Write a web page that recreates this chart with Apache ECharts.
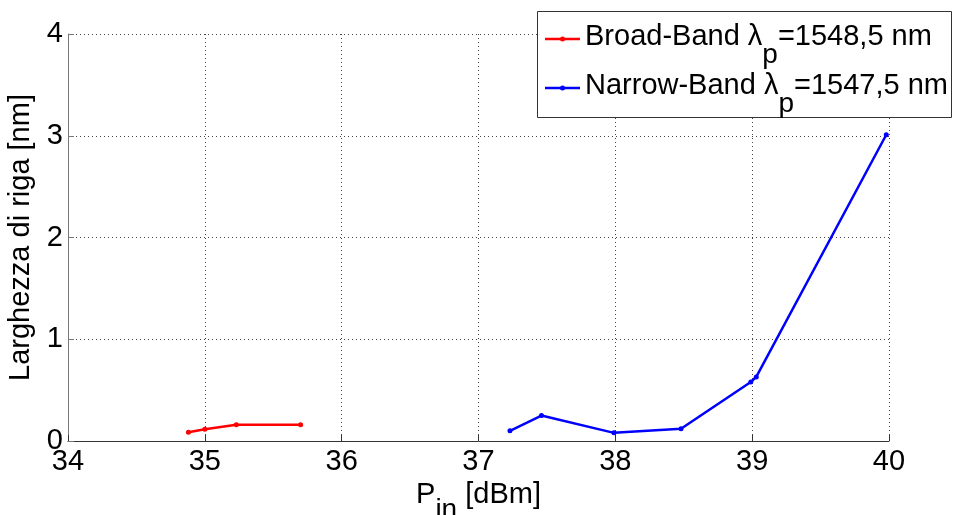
<!DOCTYPE html>
<html>
<head>
<meta charset="utf-8">
<script src="https://cdn.jsdelivr.net/npm/echarts@6/dist/echarts.min.js"></script>
<style>
  html, body { margin: 0; padding: 0; background: #fff; overflow: hidden; }
  #chart { width: 953px; height: 515px; }
</style>
</head>
<body>
<div id="chart"></div>
<script>
// Linewidth vs. input pump power, two pump configurations
const broadName = 'Broad-Band λp=1548,5 nm';
const narrowName = 'Narrow-Band λp=1547,5 nm';

const broadPin = [34.88, 35.00, 35.23, 35.70];
const broadWidth = [0.085, 0.115, 0.16, 0.16];

const narrowPin = [37.23, 37.46, 37.99, 38.48, 38.99, 39.03, 39.98];
const narrowWidth = [0.10, 0.25, 0.08, 0.12, 0.58, 0.63, 3.01];

const xTicks = [34, 35, 36, 37, 38, 39, 40];
const yTicks = [0, 1, 2, 3, 4];

const FONT = '"Liberation Sans", Arial, Helvetica, sans-serif';
const RED = '#ff0000';
const BLUE = '#0000ff';

const pairs = (xs, ys) => xs.map((x, i) => [x, ys[i]]);

// rich-text styles: normal run + lowered subscript run
const richText = (sub) => ({
  a: { fontSize: 29, lineHeight: 29, verticalAlign: 'top', fontFamily: FONT, fill: '#000', color: '#000' },
  s: { fontSize: 28, lineHeight: 29, padding: [sub, 0, 0, 0], verticalAlign: 'top', fontFamily: FONT, fill: '#000', color: '#000' }
});

// legend box drawn as graphics: frame, line+dot samples, labels
const legendEntries = [
  { label: '{a|Broad-Band λ}{s|p}{a|=1548,5 nm}', color: RED, y: 39 },
  { label: '{a|Narrow-Band λ}{s|p}{a|=1547,5 nm}', color: BLUE, y: 88 }
];

const legendGraphics = [
  {
    type: 'rect', left: 537, top: 11, z: 100,
    shape: { width: 414, height: 106 },
    style: { fill: '#fff', stroke: '#333', lineWidth: 1 }
  }
];
legendEntries.forEach((e) => {
  legendGraphics.push({
    type: 'line', z: 101,
    shape: { x1: 545, y1: e.y, x2: 580, y2: e.y },
    style: { stroke: e.color, lineWidth: 2.5 }
  });
  legendGraphics.push({
    type: 'circle', z: 102,
    shape: { cx: 562.5, cy: e.y, r: 2.5 },
    style: { fill: e.color }
  });
  legendGraphics.push({
    type: 'text', z: 103,
    x: 585, y: e.y - 17,
    style: {
      text: e.label,
      rich: richText(19),
      fontFamily: FONT, fontSize: 29, fill: '#000',
      verticalAlign: 'top', align: 'left'
    }
  });
});

const chart = echarts.init(document.getElementById('chart'), null, {
  renderer: 'canvas', width: 953, height: 515
});

const gridLine = { show: true, lineStyle: { color: '#444', type: [1, 3], width: 1 } };

chart.setOption({
  animation: false,
  backgroundColor: '#fff',
  textStyle: { fontFamily: FONT },
  grid: {
    left: 68, right: 64, top: 34, bottom: 74,
    containLabel: false, outerBoundsMode: 'none'
  },
  graphic: legendGraphics,
  xAxis: {
    type: 'value', min: xTicks[0], max: xTicks[xTicks.length - 1], interval: 1,
    name: '{a|P}{s|in}{a| [dBm]}',
    nameLocation: 'middle', nameGap: 39,
    nameTextStyle: { rich: richText(15) },
    axisLine: { show: true, onZero: false, lineStyle: { color: '#333', width: 1 } },
    axisTick: { show: true, inside: true, length: 6, lineStyle: { color: '#333' } },
    axisLabel: { fontSize: 29, color: '#000', margin: 6, fontFamily: FONT },
    splitLine: gridLine
  },
  yAxis: {
    type: 'value', min: yTicks[0], max: yTicks[yTicks.length - 1], interval: 1,
    name: 'Larghezza di riga [nm]',
    nameLocation: 'middle', nameGap: 28, nameRotate: 90,
    nameTextStyle: { fontSize: 29, color: '#000', fontFamily: FONT },
    axisLine: { show: true, onZero: false, lineStyle: { color: '#777', width: 1 } },
    axisTick: { show: true, inside: true, length: 6, lineStyle: { color: '#777' } },
    axisLabel: { fontSize: 29, color: '#000', margin: 5, fontFamily: FONT },
    splitLine: gridLine
  },
  series: [
    {
      name: broadName, type: 'line',
      data: pairs(broadPin, broadWidth),
      symbol: 'circle', symbolSize: 5, showSymbol: true,
      lineStyle: { width: 2.5, color: RED },
      itemStyle: { color: RED }
    },
    {
      name: narrowName, type: 'line',
      data: pairs(narrowPin, narrowWidth),
      symbol: 'circle', symbolSize: 5, showSymbol: true,
      lineStyle: { width: 2.5, color: BLUE },
      itemStyle: { color: BLUE }
    }
  ]
});
</script>
</body>
</html>
